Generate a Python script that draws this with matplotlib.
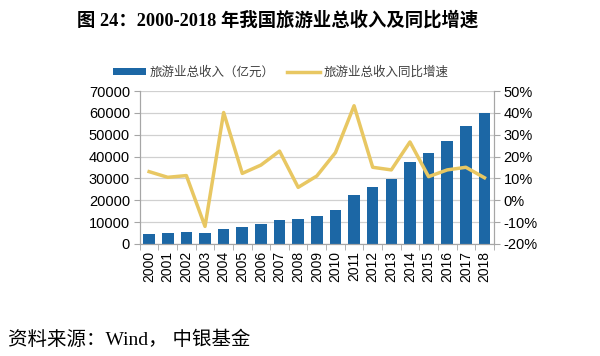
import numpy as np
import matplotlib.pyplot as plt
from matplotlib.ticker import FuncFormatter

plt.rcParams['font.family'] = ['Liberation Sans', 'Noto Sans CJK SC']

years = [str(y) for y in range(2000, 2019)]
revenue = [4519, 4995, 5566, 4882, 6840, 7686, 8935, 10957, 11586, 12900,
           15700, 22500, 25900, 29500, 37300, 41600, 47000, 54000, 59900]
growth = [13.1, 10.5, 11.3, -12.0, 40.2, 12.3, 16.1, 22.5, 5.9, 11.1,
          21.8, 43.3, 15.1, 13.9, 26.7, 10.8, 13.9, 15.1, 10.3]

bar_color = '#1c67a5'
line_color = '#e8c762'
axis_color = '#a6a6a6'

fig = plt.figure(figsize=(6, 3.56), dpi=100)
ax = fig.add_axes([0.233, 0.315, 0.59, 0.429])
x = np.arange(len(years))

ax.bar(x, revenue, width=0.62, color=bar_color, label='旅游业总收入（亿元）', zorder=2)
ax.set_ylim(0, 70000)
ax.set_yticks(range(0, 70001, 10000))
ax.set_xlim(-0.5, len(years) - 0.5)
ax.set_xticks(x)
ax.set_xticklabels(years, rotation=90, fontsize=10)
ax.set_xticks(np.arange(-0.5, len(years), 1), minor=True)
ax.tick_params(axis='x', which='major', length=0, pad=5)
ax.tick_params(axis='x', which='minor', length=4, color=axis_color, direction='out')
ax.tick_params(axis='y', labelsize=10.5, length=4, color=axis_color, pad=3)
ax.grid(axis='y', color='#d0d0d0', linewidth=0.9, zorder=0)
ax.spines['top'].set_visible(False)
for s in ['left', 'bottom', 'right']:
    ax.spines[s].set_color(axis_color)

ax2 = ax.twinx()
ax2.plot(x, growth, color=line_color, linewidth=2.5, label='旅游业总收入同比增速', zorder=3)
ax2.set_ylim(-20, 50)
ax2.set_yticks(range(-20, 51, 10))
ax2.yaxis.set_major_formatter(FuncFormatter(lambda v, p: f'{int(v)}%'))
ax2.tick_params(axis='y', labelsize=10.5, length=4, color=axis_color, pad=3)
ax2.spines['top'].set_visible(False)
for s in ['left', 'bottom', 'right']:
    ax2.spines[s].set_color(axis_color)

h1, l1 = ax.get_legend_handles_labels()
h2, l2 = ax2.get_legend_handles_labels()
leg = fig.legend(h1 + h2, l1 + l2, loc='center', bbox_to_anchor=(0.468, 0.797), ncol=2,
                 frameon=False, handlelength=2.6, handleheight=0.5,
                 columnspacing=1.0, handletextpad=0.3,
                 prop={'family': ['Noto Sans CJK SC'], 'size': 9})
for t in leg.get_texts():
    t.set_color('#404040')

fig.text(0.462, 0.944, '图 24：2000-2018 年我国旅游业总收入及同比增速', ha='center', va='center',
         fontsize=13.2, fontweight='bold', family=['Liberation Serif', 'Noto Sans CJK SC'])
fig.text(0.013, 0.045, '资料来源：Wind， 中银基金', ha='left', va='center',
         fontsize=14, family=['Liberation Serif', 'Noto Sans CJK SC'])

fig.savefig('out.png', dpi=100)
